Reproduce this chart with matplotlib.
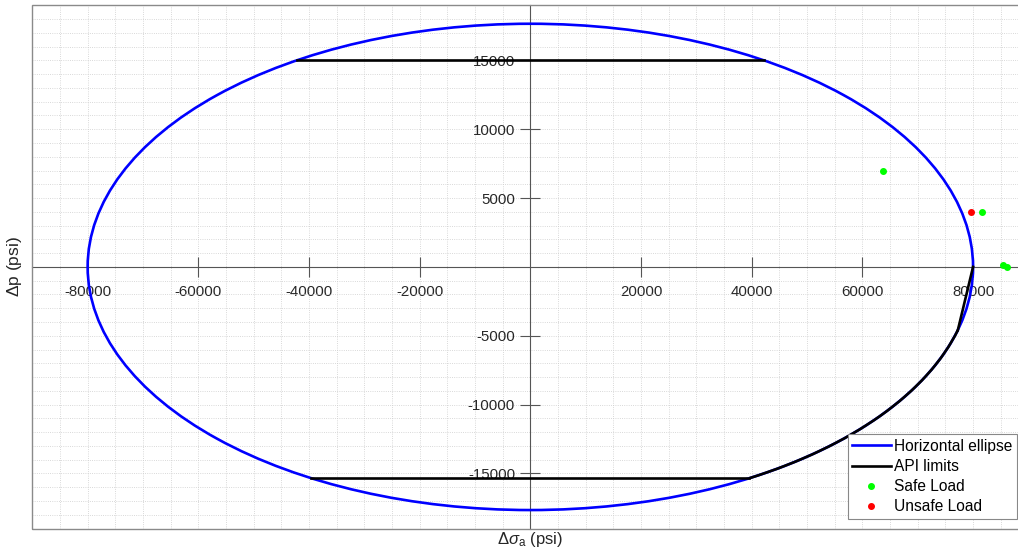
import matplotlib
matplotlib.use("Agg")
import matplotlib.pyplot as plt
from matplotlib.patches import Ellipse, Arc, Rectangle
from matplotlib.lines import Line2D
from matplotlib.ticker import MultipleLocator
import numpy as np

plt.rcParams['font.family'] = ['Liberation Sans', 'DejaVu Sans']
plt.rcParams['mathtext.fontset'] = 'custom'
plt.rcParams['mathtext.rm'] = 'Liberation Sans'
plt.rcParams['mathtext.it'] = 'Liberation Sans:italic'

# ellipse semi axes (psi)
ellipse_a = 80000
ellipse_b = 17660

# API limits: top segment, bottom segment, arc on ellipse, closing segment
api_top_x = [-42220, 42220]
api_top_y = [15000, 15000]
api_bot_x = [-39550, 39550]
api_bot_y = [-15350, -15350]
api_arc_start = (39550, -15350)
api_arc_end = (77250, -4594)
api_tail_x = [77250, 80000]
api_tail_y = [-4594, 0]

# load points
safe_x = [63750, 81600, 85500, 86100]
safe_y = [7000, 4000, 150, 0]
unsafe_x = [79600]
unsafe_y = [4000]

xticks = [-80000, -60000, -40000, -20000, 20000, 40000, 60000, 80000]
yticks = [-15000, -10000, -5000, 5000, 10000, 15000]

W, H = 1018, 560
fig = plt.figure(figsize=(W / 100, H / 100), dpi=100)
# right edge of the axes is cut off like in the original screenshot
ax = fig.add_axes([32.3 / W, 1 - 528.5 / H, (1028.4 - 32.3) / W, (528.5 - 5.3) / H])
ax.set_xlim(-90000, 90000)
ax.set_ylim(-19000, 19000)

lw = 1.9
ax.add_patch(Ellipse((0, 0), 2 * ellipse_a, 2 * ellipse_b, fill=False,
                     edgecolor='b', lw=lw, zorder=3))

ax.plot(api_top_x, api_top_y, color='k', lw=lw, zorder=4)
ax.plot(api_bot_x, api_bot_y, color='k', lw=lw, zorder=4)
t1 = np.degrees(np.arctan2(api_arc_start[1], api_arc_start[0]))
t2 = np.degrees(np.arctan2(api_arc_end[1], api_arc_end[0]))
ax.add_patch(Arc((0, 0), 2 * ellipse_a, 2 * ellipse_b, theta1=t1, theta2=t2,
                 edgecolor='k', lw=lw, zorder=4))
ax.plot(api_tail_x, api_tail_y, color='k', lw=lw, zorder=4)

ax.plot(safe_x, safe_y, ls='none', marker='o', color=(0, 1, 0), ms=4, zorder=5)
ax.plot(unsafe_x, unsafe_y, ls='none', marker='o', color=(1, 0, 0), ms=4, zorder=5)

# axes through origin
for s in ['top', 'right']:
    ax.spines[s].set_visible(False)
for s in ['left', 'bottom']:
    ax.spines[s].set_position(('data', 0))
    ax.spines[s].set_color('#555555')
    ax.spines[s].set_linewidth(0.8)
ax.add_patch(Rectangle((0, 0), 1, 1, transform=ax.transAxes, fill=False,
                       edgecolor='#8a8a8a', lw=1.0, clip_on=False, zorder=6))

ax.set_xticks(xticks)
ax.set_yticks(yticks)
ax.set_xticklabels([str(v) for v in xticks])
ax.set_yticklabels([str(v) for v in yticks])
ax.xaxis.set_minor_locator(MultipleLocator(5000))
ax.yaxis.set_minor_locator(MultipleLocator(1000))
ax.tick_params(which='major', direction='inout', length=14, width=0.8,
               color='#555555', labelcolor='#262626', labelsize=10.8)
ax.tick_params(axis='x', pad=6)
ax.tick_params(axis='y', pad=4)
ax.tick_params(which='minor', length=0)
ax.grid(which='both', linestyle=':', color='#cccccc', linewidth=0.6)
ax.set_axisbelow(True)

ax.set_xlabel(r'$\Delta\sigma_\mathrm{a}$ (psi)', fontsize=12, color='#262626')
ax.xaxis.set_label_coords(530 / W, 1 - 530 / H, transform=fig.transFigure)
ax.set_ylabel(r'$\Delta$p (psi)', fontsize=12.5, color='#262626', va='center')
ax.yaxis.set_label_coords(15 / W, 1 - 267 / H, transform=fig.transFigure)

handles = [
    Line2D([], [], color='b', lw=lw),
    Line2D([], [], color='k', lw=lw),
    Line2D([], [], ls='none', marker='o', color=(0, 1, 0), ms=4),
    Line2D([], [], ls='none', marker='o', color=(1, 0, 0), ms=4),
]
labels = ['Horizontal ellipse', 'API limits', 'Safe Load', 'Unsafe Load']
leg = ax.legend(handles, labels, loc='lower right',
                bbox_to_anchor=(1016.7 / W, 1 - 519 / H), bbox_transform=fig.transFigure,
                borderaxespad=0, fontsize=11.2, handlelength=2.45, handletextpad=0.2,
                labelspacing=0.33, borderpad=0.3, fancybox=False,
                edgecolor='#888888', framealpha=1)
leg.get_frame().set_linewidth(0.8)
leg.set_zorder(10)

fig.savefig('out.png', dpi=100)
